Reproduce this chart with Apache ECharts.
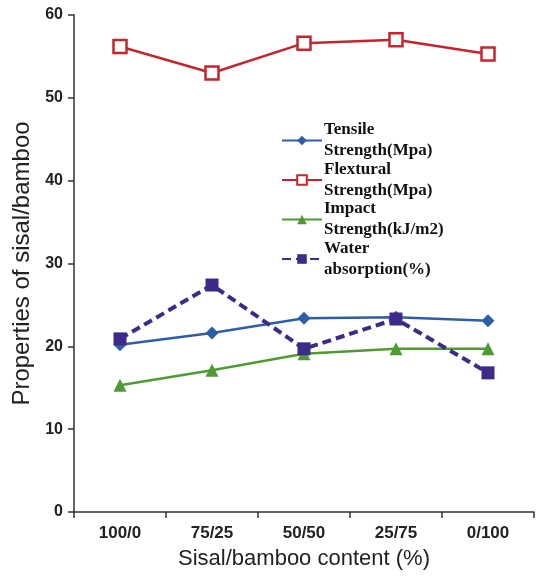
<!DOCTYPE html>
<html><head><meta charset="utf-8">
<script src="https://cdn.jsdelivr.net/npm/echarts@6/dist/echarts.min.js"></script>
<style>html,body{margin:0;padding:0;background:#fff}#c{width:539px;height:576px}</style>
</head><body><div id="c"></div>
<script>
const categories = ['100/0', '75/25', '50/50', '25/75', '0/100'];
const tensile = [20.2, 21.6, 23.4, 23.5, 23.1];
const flextural = [56.2, 53.0, 56.6, 57.0, 55.3];
const impact = [15.3, 17.1, 19.1, 19.7, 19.7];
const water = [20.9, 27.4, 19.7, 23.3, 16.8];
const yTicks = [0, 10, 20, 30, 40, 50, 60];
const legendNames = ['Tensile\nStrength(Mpa)', 'Flextural\nStrength(Mpa)', 'Impact\nStrength(kJ/m2)', 'Water\nabsorption(%)'];

const chart = echarts.init(document.getElementById('c'));
chart.setOption({
  animation: false,
  backgroundColor: '#fff',
  grid: { left: 74, right: 5, top: 15, bottom: 64 },
  legend: {
    orient: 'vertical', left: 276, top: 104,
    itemWidth: 40, itemHeight: 12, itemGap: -23.5,
    selectedMode: false,
    textStyle: { fontFamily: 'Liberation Serif', fontWeight: 'bold', fontSize: 17, color: '#111', lineHeight: 21, padding: [21, 0, 0, -3] },
    data: legendNames
  },
  xAxis: {
    type: 'category', data: categories, boundaryGap: true,
    axisLine: { lineStyle: { color: '#333', width: 1.5 } },
    axisTick: { show: true, length: 6, lineStyle: { color: '#333', width: 1.5 } },
    axisLabel: { fontFamily: 'Liberation Sans', fontWeight: 'bold', fontSize: 17, color: '#222', margin: 13 },
    name: 'Sisal/bamboo content (%)', nameLocation: 'middle', nameGap: 36,
    nameTextStyle: { fontFamily: 'Liberation Sans', fontSize: 22, color: '#222' }
  },
  yAxis: {
    type: 'value', min: yTicks[0], max: yTicks[yTicks.length - 1], interval: 10,
    splitLine: { show: false },
    axisLine: { show: true, lineStyle: { color: '#333', width: 1.5 } },
    axisTick: { show: true, length: 6, lineStyle: { color: '#333', width: 1.5 } },
    axisLabel: { fontFamily: 'Liberation Sans', fontWeight: 'bold', fontSize: 16, color: '#222', margin: 11 },
    name: 'Properties of sisal/bamboo', nameLocation: 'middle', nameGap: 32,
    nameTextStyle: { fontFamily: 'Liberation Sans', fontSize: 24, color: '#222' }
  },
  series: [
    { name: legendNames[0], type: 'line', data: tensile, symbol: 'diamond', symbolSize: 13,
      lineStyle: { color: '#2d5fa6', width: 2.5 }, itemStyle: { color: '#2d5fa6' } },
    { name: legendNames[1], type: 'line', data: flextural, symbol: 'rect', symbolSize: 13,
      lineStyle: { color: '#c1272d', width: 2.5 }, itemStyle: { color: '#fff', borderColor: '#c1272d', borderWidth: 2.5 } },
    { name: legendNames[2], type: 'line', data: impact, symbol: 'triangle', symbolSize: 13,
      lineStyle: { color: '#4f9a32', width: 2.5 }, itemStyle: { color: '#4f9a32' } },
    { name: legendNames[3], type: 'line', data: water, symbol: 'rect', symbolSize: 13,
      lineStyle: { color: '#3e2a88', width: 4, type: [9, 5] }, itemStyle: { color: '#3e2a88' } }
  ]
});
</script></body></html>
